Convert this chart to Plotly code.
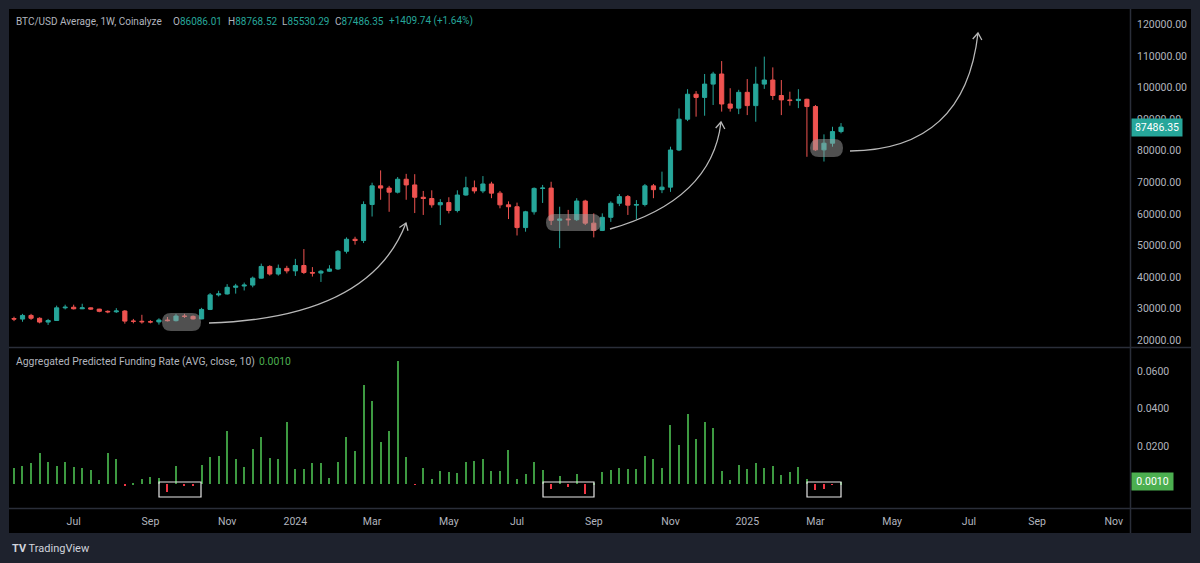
import math
import plotly.graph_objects as go

# ---------------- data ----------------
week_index = list(range(98))  # weekly bars, 2023-05-15 ... 2025-03-24

opens = [26900, 26750, 27900, 27000, 25800, 26300, 30300, 30500, 30000, 30300,
         29900, 29200, 29050, 29300, 26100, 26050, 25900, 25850, 26450, 26250,
         27700, 27600, 26800, 29800, 34400, 34700, 36800, 37200, 37500, 39700,
         43400, 41000, 42800, 42000, 43700, 41500, 41300, 41900, 42600, 48200,
         52000, 51600, 63000, 68900, 68200, 66900, 71000, 69200, 65300, 64900,
         62900, 63600, 61100, 66000, 68300, 67300, 69500, 66600, 62900, 62300,
         55700, 60700, 68100, 68200, 58000, 58400, 58200, 64100, 57100, 54800,
         58950, 63400, 65500, 62800, 63000, 68900, 67700, 68500, 80250, 90000,
         97900, 96900, 101100, 104300, 94800, 93500, 98500, 94300, 101100, 102400,
         97500, 96100, 95900, 96300, 94000, 80300, 82400, 86086.01]
highs = [27500, 28400, 28400, 27300, 26800, 31000, 31300, 31300, 31600, 30400,
         30000, 29500, 30200, 29600, 26800, 28100, 26400, 27000, 27400, 28400,
         28400, 27900, 30300, 35000, 35700, 37800, 37900, 38300, 40200, 44300,
         43800, 44000, 43600, 45800, 48900, 43200, 42300, 43800, 48600, 52600,
         52800, 64000, 69900, 73800, 68900, 71700, 72700, 72600, 67300, 67500,
         64700, 65300, 67500, 71800, 70600, 72000, 70200, 67300, 64000, 63600,
         61000, 68400, 69200, 70200, 62300, 61300, 65000, 64500, 60200, 60200,
         64000, 66300, 66000, 64400, 69500, 69500, 73400, 81300, 93400, 99500,
         98900, 104300, 105000, 108400, 99800, 99300, 102700, 106600, 109800, 106400,
         102400, 98700, 99500, 96500, 94500, 85200, 87600, 88768.52]
lows = [26100, 25900, 26500, 25400, 24900, 26200, 29800, 29800, 29900, 29700,
        28900, 28600, 28700, 25300, 25400, 25300, 25400, 25000, 26000, 26000,
        27100, 26600, 26700, 29600, 33900, 34500, 34800, 35800, 36800, 39600,
        40500, 40500, 41200, 40400, 41000, 40200, 38500, 41700, 42300, 47500,
        50300, 50800, 59200, 64500, 60700, 66500, 64500, 60300, 59700, 62000,
        56500, 60200, 60500, 65800, 66500, 66600, 65000, 61800, 58400, 53200,
        54400, 59800, 63500, 56500, 49200, 56300, 57800, 56500, 52600, 54600,
        57500, 62500, 59700, 58300, 62400, 65000, 66600, 67000, 79900, 89400,
        90800, 91100, 94500, 92400, 92400, 91600, 91300, 89200, 99600, 96100,
        91300, 94300, 93500, 78100, 80000, 76600, 81300, 85530.29]
closes = [26750, 27900, 27000, 25800, 26300, 30300, 30500, 30000, 30300, 29900,
          29200, 29050, 29300, 26100, 26050, 25900, 25850, 26450, 26250, 27700,
          27600, 26800, 29800, 34400, 34700, 36800, 37200, 37500, 39700, 43400,
          41000, 42800, 42000, 43700, 41500, 41300, 41900, 42600, 48200, 52000,
          51600, 63000, 68900, 68200, 66900, 71000, 69200, 65300, 64900, 62900,
          63600, 61100, 66000, 68300, 67300, 69500, 66600, 62900, 62300, 55700,
          60700, 68100, 68200, 58000, 58400, 58200, 64100, 57100, 54800, 58950,
          63400, 65500, 62800, 63000, 68900, 67700, 68500, 80250, 90000, 97900,
          96900, 101100, 104300, 94800, 93500, 98500, 94300, 101100, 102400, 97500,
          96100, 95900, 96300, 94000, 80300, 82400, 86076.61, 87486.35]

funding = [0.0085, 0.0100, 0.0112, 0.0165, 0.0117, 0.0096, 0.0117, 0.0094, 0.0087, 0.0076,
           0.0023, 0.0165, 0.0135, -0.0005, 0.0003, 0.0027, 0.0037, 0.0032, -0.0041, 0.0100,
           -0.0006, -0.0009, 0.0103, 0.0144, 0.0149, 0.0284, 0.0135, 0.0091, 0.0187, 0.0252,
           0.0140, 0.0135, 0.0331, 0.0082, 0.0082, 0.0114, 0.0114, 0.0032, 0.0117, 0.0252,
           0.0176, 0.0528, 0.0443, 0.0226, 0.0284, 0.0656, 0.0144, -0.0003, 0.0087, 0.0028,
           0.0073, 0.0068, 0.0059, 0.0117, 0.0123, 0.0135, 0.0069, 0.0073, 0.0181, 0.0028,
           0.0053, 0.0117, 0.0076, -0.0023, 0.0044, -0.0014, 0.0053, -0.0053, 0.0005, 0.0066,
           0.0075, 0.0085, 0.0082, 0.0080, 0.0149, 0.0135, 0.0085, 0.0315, 0.0208, 0.0375,
           0.0240, 0.0331, 0.0302, 0.0073, 0.0023, 0.0103, 0.0080, 0.0112, 0.0085, 0.0100,
           0.0048, 0.0068, 0.0091, 0.0027, -0.0030, -0.0027, -0.0002, 0.0010]

time_tick_index = [7, 16, 25, 33, 42, 51, 59, 68, 77, 86, 94, 103, 112, 120, 129]
time_tick_text = ["Jul", "Sep", "Nov", "2024", "Mar", "May", "Jul", "Sep", "Nov",
                  "2025", "Mar", "May", "Jul", "Sep", "Nov"]
price_ticks = [20000, 30000, 40000, 50000, 60000, 70000, 80000, 90000, 100000, 110000, 120000]
funding_ticks = [0.02, 0.04, 0.06]

# ---------------- geometry helpers (pixel -> axis / paper) ----------------
W, H = 1200, 563
L, R, T, B = 9, 1130, 9, 508          # plot area in pixels
SEP = 347.5                            # pane separator


def X(px):
    return (px - 14) / 8.526


def P(py):
    return 110000 - (py - 56) * 316.46


def F(py):
    return (483.8 - py) * 0.02 / 37.6


def PX(px):
    return (px - L) / (R - L)


def PY(py):
    return (B - py) / (B - T)


UP, DOWN = "#26a69a", "#ef5350"
TXT = "#b2b5be"
FONT = "Roboto"

fig = go.Figure()
fig.add_trace(go.Candlestick(
    x=week_index, open=opens, high=highs, low=lows, close=closes,
    increasing=dict(line=dict(color=UP, width=1), fillcolor=UP),
    decreasing=dict(line=dict(color=DOWN, width=1), fillcolor=DOWN),
    whiskerwidth=0, xaxis="x", yaxis="y", hoverinfo="skip", showlegend=False))

fig.add_trace(go.Bar(
    x=week_index, y=funding, width=0.13,
    marker=dict(color=["#3d9a41" if v >= 0 else "#f23645" for v in funding], line=dict(width=0)),
    xaxis="x", yaxis="y2", hoverinfo="skip", showlegend=False))

shapes = []
shapes.append(dict(type="rect", xref="paper", yref="paper", x0=PX(9), x1=PX(1191),
                   y0=PY(533), y1=PY(9), fillcolor="#000000", line=dict(width=0), layer="below"))
for y in (SEP, 508.5):
    shapes.append(dict(type="line", xref="paper", yref="paper", x0=PX(9), x1=PX(1191),
                       y0=PY(y), y1=PY(y), line=dict(color="#2a2e39", width=1.5)))
shapes.append(dict(type="line", xref="paper", yref="paper", x0=PX(1130.5), x1=PX(1130.5),
                   y0=PY(533), y1=PY(9), line=dict(color="#2a2e39", width=1.5)))


def capsule(x0, x1, y0, y1):
    r = (y1 - y0) / 2
    ym = (y0 + y1) / 2
    pts = [("M", [(x0 + r, y0)]), ("L", [(x1 - r, y0)]), ("Q", [(x1, y0), (x1, ym)]),
           ("Q", [(x1, y1), (x1 - r, y1)]), ("L", [(x0 + r, y1)]), ("Q", [(x0, y1), (x0, ym)]),
           ("Q", [(x0, y0), (x0 + r, y0)])]
    s = ""
    for cmd, ps in pts:
        s += cmd + " " + " ".join(f"{X(a):.4f},{P(b):.2f}" for a, b in ps) + " "
    return s + "Z"


for (x0, x1, y0, y1) in [(162, 201, 313, 331), (546, 601, 214, 231), (810, 843, 139, 157)]:
    shapes.append(dict(type="path", xref="x", yref="y", path=capsule(x0, x1, y0, y1),
                       fillcolor="rgba(160,160,160,0.5)", line=dict(width=0), layer="above"))


def arrow(p0, c, p2):
    s = f"M {X(p0[0]):.4f},{P(p0[1]):.2f} Q {X(c[0]):.4f},{P(c[1]):.2f} {X(p2[0]):.4f},{P(p2[1]):.2f}"
    shapes.append(dict(type="path", xref="x", yref="y", path=s,
                       line=dict(color="#b8b8b8", width=1.3)))
    dx, dy = p2[0] - c[0], p2[1] - c[1]
    n = math.hypot(dx, dy)
    ux, uy = dx / n, dy / n
    size = 8
    pts = []
    for ang in (math.radians(35), -math.radians(35)):
        rx = -ux * math.cos(ang) + uy * math.sin(ang)
        ry = -uy * math.cos(ang) - ux * math.sin(ang)
        pts.append((p2[0] + size * rx, p2[1] + size * ry))
    s2 = (f"M {X(pts[0][0]):.4f},{P(pts[0][1]):.2f} L {X(p2[0]):.4f},{P(p2[1]):.2f} "
          f"L {X(pts[1][0]):.4f},{P(pts[1][1]):.2f}")
    shapes.append(dict(type="path", xref="x", yref="y", path=s2,
                       line=dict(color="#b8b8b8", width=1.3)))


arrow((209, 323), (370, 318), (406, 223))
arrow((610, 229), (712, 200), (721, 122))
arrow((850, 151), (965, 150), (978, 33))

for (x0, x1) in [(159, 201), (543, 594), (807, 841)]:
    shapes.append(dict(type="rect", xref="x", yref="y2", x0=X(x0), x1=X(x1),
                       y0=F(497), y1=F(482), line=dict(color="#e8e8e8", width=1.2)))

ann = []


def txt(px, py, text, color=TXT, size=10, anchor="left"):
    ann.append(dict(xref="paper", yref="paper", x=PX(px), y=PY(py), text=text, showarrow=False,
                    xanchor=anchor, yanchor="middle", font=dict(family=FONT, size=size, color=color)))


txt(14, 21, "BTC/USD Average, 1W, Coinalyze")
txt(171, 21, f"O<span style='color:{UP}'>{opens[-1]:.2f}</span>")
txt(226, 21, f"H<span style='color:{UP}'>{highs[-1]:.2f}</span>")
txt(280, 21, f"L<span style='color:{UP}'>{lows[-1]:.2f}</span>")
txt(333, 21, f"C<span style='color:{UP}'>{closes[-1]:.2f}</span>")
chg = closes[-1] - closes[-2]
txt(387, 21, f"+{chg:.2f} (+{chg / closes[-2] * 100:.2f}%)", color=UP)
txt(14, 361, "Aggregated Predicted Funding Rate (AVG, close, 10)", size=10.4)
txt(257, 361, f"{funding[-1]:.4f}", color="#4caf50", size=10.4)
txt(10, 548, "<b>TV</b> TradingView", color="#d1d4dc", size=11)

ann.append(dict(xref="paper", yref="y", x=PX(1131), y=closes[-1], text=f"{closes[-1]:.2f}",
                showarrow=False, xanchor="left", yanchor="middle", bgcolor=UP, borderpad=2,
                width=46, font=dict(family=FONT, size=10.5, color="#ffffff")))
ann.append(dict(xref="paper", yref="y2", x=PX(1131), y=funding[-1], text=f"{funding[-1]:.4f}",
                showarrow=False, xanchor="left", yanchor="middle", bgcolor="#4caf50", borderpad=2,
                width=37, font=dict(family=FONT, size=10.5, color="#ffffff")))

fig.update_layout(
    width=W, height=H,
    margin=dict(l=L, r=W - R, t=T, b=H - B),
    paper_bgcolor="#1e222d", plot_bgcolor="#000000",
    showlegend=False, shapes=shapes, annotations=ann,
    xaxis=dict(anchor="y2", range=[X(L), X(R)], tickvals=time_tick_index, ticktext=time_tick_text,
               showgrid=False, zeroline=False, showline=False, ticks="", rangeslider=dict(visible=False),
               tickfont=dict(family=FONT, size=10.5, color=TXT), ticklabelstandoff=5, fixedrange=True),
    yaxis=dict(domain=[PY(SEP), 1], range=[P(SEP), P(T)], side="right", tickvals=price_ticks,
               tickformat=".2f", showgrid=False, zeroline=False, showline=False, ticks="",
               tickfont=dict(family=FONT, size=10.5, color=TXT), ticklabelstandoff=6),
    yaxis2=dict(domain=[0, PY(SEP + 1)], range=[F(B), F(SEP + 1)], side="right", tickvals=funding_ticks,
                tickformat=".4f", showgrid=False, zeroline=False, showline=False, ticks="",
                tickfont=dict(family=FONT, size=10.5, color=TXT), ticklabelstandoff=6),
    bargap=0,
)

fig.write_html("out.html")
